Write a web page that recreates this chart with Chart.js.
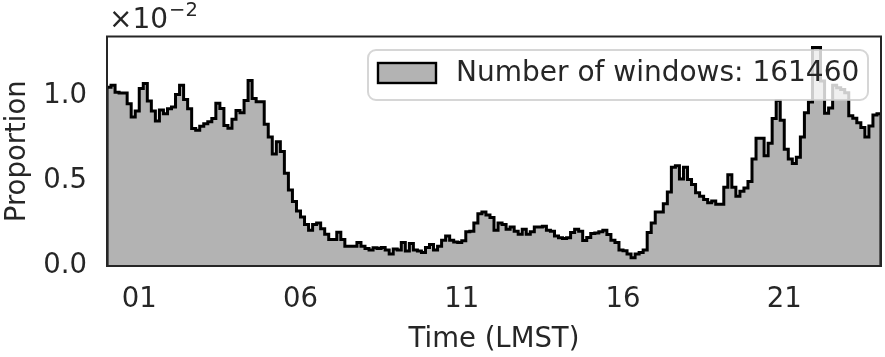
<!DOCTYPE html>
<html>
<head>
<meta charset="utf-8">
<script src="https://cdn.jsdelivr.net/npm/chart.js@4.4.1/dist/chart.umd.min.js"></script>
<style>
    html, body { margin: 0; padding: 0; background: #fff; }
</style>
</head>
<body>
<canvas id="histChart" width="885" height="357"></canvas>
<script>
//Proportion of windows per bin, in units of 10^-2 (192 bins of 7.5 min, LMST)
const proportion = [
    1.053, 1.064, 1.023, 1.018, 1.018, 0.955, 0.877, 0.912, 1.045, 1.074, 0.971, 0.912,
    0.854, 0.918, 0.897, 0.926, 0.936, 1.010, 1.064, 0.981, 0.926, 0.809, 0.799, 0.823,
    0.838, 0.850, 0.869, 0.959, 0.928, 0.828, 0.811, 0.864, 0.916, 0.903, 0.975, 1.092,
    0.986, 0.967, 0.967, 0.834, 0.760, 0.659, 0.731, 0.674, 0.546, 0.448, 0.380, 0.324,
    0.288, 0.244, 0.211, 0.244, 0.253, 0.220, 0.187, 0.156, 0.156, 0.199, 0.156, 0.117,
    0.117, 0.117, 0.138, 0.117, 0.103, 0.094, 0.107, 0.103, 0.109, 0.094, 0.070, 0.100,
    0.094, 0.138, 0.088, 0.133, 0.094, 0.088, 0.080, 0.109, 0.127, 0.094, 0.117, 0.152,
    0.177, 0.152, 0.142, 0.138, 0.148, 0.201, 0.205, 0.253, 0.308, 0.318, 0.300, 0.285,
    0.211, 0.253, 0.244, 0.216, 0.230, 0.205, 0.187, 0.216, 0.187, 0.201, 0.230, 0.230,
    0.234, 0.211, 0.205, 0.177, 0.166, 0.162, 0.166, 0.197, 0.216, 0.205, 0.150, 0.168,
    0.191, 0.195, 0.201, 0.211, 0.185, 0.152, 0.138, 0.094, 0.090, 0.070, 0.049, 0.070,
    0.080, 0.094, 0.197, 0.253, 0.318, 0.318, 0.366, 0.435, 0.581, 0.591, 0.513, 0.581,
    0.509, 0.480, 0.431, 0.411, 0.392, 0.372, 0.382, 0.363, 0.363, 0.464, 0.538, 0.464,
    0.411, 0.440, 0.460, 0.497, 0.630, 0.752, 0.752, 0.649, 0.723, 0.869, 0.975, 0.858,
    0.688, 0.630, 0.604, 0.640, 0.760, 0.902, 0.966, 1.287, 1.287, 1.090, 0.900, 0.930,
    1.065, 1.050, 1.040, 1.020, 0.885, 0.870, 0.844, 0.815, 0.760, 0.825, 0.889, 0.897
];
const windowCount = 161460;
const dayHours = 24;
const xTickHours = [1, 6, 11, 16, 21];
const xTickLabels = ['01', '06', '11', '16', '21'];
const yTickValues = [0, 0.5, 1.0];
const yExponent = '-2';

const textColor = '#262626';
const fontFamily = "'DejaVu Sans', sans-serif";
const labelSize = 27.5;
const legendSize = 28;
const tickSize = 27.5;

//Points of the step outline (left bin edges)
const binWidth = dayHours / proportion.length;
const histPoints = [{x: 0, y: 0}];
proportion.forEach((v, i) => {
    histPoints.push({x: i * binWidth, y: v});
});
histPoints.push({x: dayHours, y: proportion[proportion.length - 1]});
histPoints.push({x: dayHours, y: 0});

//Frame, legend and offset text drawn on top of the plot
const decorPlugin = {
    id: 'decor',
    afterDraw(chart) {
        const {ctx, chartArea} = chart;
        const ds = chart.data.datasets[0];
        ctx.save();

        ctx.strokeStyle = textColor;
        ctx.lineWidth = 2;
        ctx.strokeRect(chartArea.left, chartArea.top, chartArea.right - chartArea.left, chartArea.bottom - chartArea.top);

        //legend
        ctx.beginPath();
        ctx.roundRect(368, 50, 500, 50, 8);
        ctx.fillStyle = 'rgba(255, 255, 255, 0.8)';
        ctx.fill();
        ctx.strokeStyle = 'rgba(204, 204, 204, 0.8)';
        ctx.lineWidth = 2;
        ctx.stroke();

        ctx.fillStyle = ds.backgroundColor;
        ctx.fillRect(378, 63, 58, 20);
        ctx.strokeStyle = ds.borderColor;
        ctx.lineWidth = 2.4;
        ctx.strokeRect(378, 63, 58, 20);

        ctx.fillStyle = textColor;
        ctx.font = `${legendSize}px ${fontFamily}`;
        ctx.textAlign = 'left';
        ctx.textBaseline = 'middle';
        ctx.fillText(ds.label, 456, 74);

        //offset text of the y axis
        ctx.textBaseline = 'alphabetic';
        ctx.font = `${legendSize}px ${fontFamily}`;
        const base = '\u00d710';
        ctx.fillText(base, 109, 28);
        const w = ctx.measureText(base).width;
        ctx.font = `19.5px ${fontFamily}`;
        ctx.fillText(yExponent.replace('-', '\u2212'), 109 + w + 1, 16);

        ctx.restore();
    }
};

const config = {
    type: 'line',
    data: {
        datasets: [{
            label: `Number of windows: ${windowCount}`,
            data: histPoints,
            stepped: true,
            fill: 'origin',
            backgroundColor: '#b3b3b3',
            borderColor: '#000000',
            borderWidth: 3,
            pointRadius: 0
        }]
    },
    options: {
        responsive: false,
        animation: false,
        devicePixelRatio: 1,
        layout: {
            padding: {top: 34.5, right: 4, bottom: 0, left: 0}
        },
        plugins: {
            legend: {display: false},
            tooltip: {enabled: false}
        },
        scales: {
            x: {
                type: 'linear',
                min: 0,
                max: dayHours,
                grid: {display: false, drawTicks: false},
                border: {display: false},
                afterBuildTicks: scale => {
                    scale.ticks = xTickHours.map(h => ({value: h}));
                },
                afterFit: scale => {
                    scale.height = 91;
                },
                ticks: {
                    color: textColor,
                    padding: 17,
                    maxRotation: 0,
                    font: {family: fontFamily, size: tickSize},
                    callback: v => xTickLabels[xTickHours.indexOf(v)]
                },
                title: {
                    display: true,
                    text: 'Time (LMST)',
                    color: textColor,
                    padding: {top: 0, bottom: 1},
                    font: {family: fontFamily, size: labelSize}
                }
            },
            y: {
                min: 0,
                max: Math.max(...proportion) * 1.05,
                grid: {display: false, drawTicks: false},
                border: {display: false},
                afterBuildTicks: scale => {
                    scale.ticks = yTickValues.map(v => ({value: v}));
                },
                afterFit: scale => {
                    scale.width = 107;
                },
                ticks: {
                    color: textColor,
                    padding: 20,
                    font: {family: fontFamily, size: tickSize},
                    callback: v => v.toFixed(1)
                },
                title: {
                    display: true,
                    text: 'Proportion',
                    color: textColor,
                    padding: {top: 1, bottom: 0},
                    font: {family: fontFamily, size: labelSize}
                }
            }
        }
    },
    plugins: [decorPlugin]
};

const histChart = new Chart(document.getElementById('histChart'), config);
</script>
</body>
</html>
